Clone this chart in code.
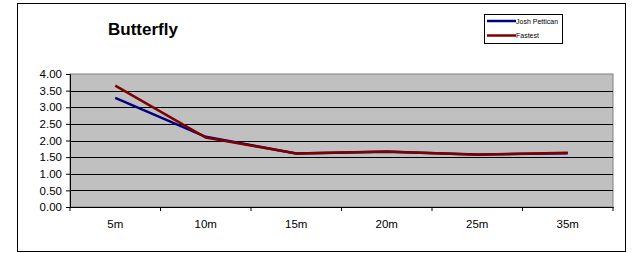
<!DOCTYPE html>
<html>
<head>
<meta charset="utf-8">
<script src="https://cdn.jsdelivr.net/npm/d3@7"></script>
<style>
  body { margin: 0; background: #fff; }
  svg { display: block; font-family: "Liberation Sans", Arial, sans-serif; }
</style>
</head>
<body>
<div id="chart"></div>
<script>
const categories = ["5m", "10m", "15m", "20m", "25m", "35m"];
const joshPettican = [3.28, 2.11, 1.61, 1.66, 1.58, 1.62];
const fastest = [3.65, 2.09, 1.61, 1.67, 1.57, 1.63];
const yTicks = [0, 0.5, 1, 1.5, 2, 2.5, 3, 3.5, 4];

const w = 633;
const h = 253;
const plot = { left: 70, top: 74, right: 613, bottom: 207 };

const svg = d3
  .select("#chart")
  .append("svg")
  .attr("width", w)
  .attr("height", h);

// outer chart frame
svg
  .append("rect")
  .attr("x", 17.5)
  .attr("y", 3.5)
  .attr("width", 608)
  .attr("height", 248)
  .style("fill", "#fff")
  .style("stroke", "#000")
  .style("stroke-width", "1px");

const xScale = d3
  .scaleBand()
  .domain(categories)
  .range([plot.left, plot.right]);

const yScale = d3
  .scaleLinear()
  .domain([0, 4])
  .range([plot.bottom, plot.top]);

// plot area
svg
  .append("rect")
  .attr("x", plot.left)
  .attr("y", plot.top)
  .attr("width", plot.right - plot.left)
  .attr("height", plot.bottom - plot.top)
  .style("fill", "#c0c0c0")
  .style("stroke", "#808080")
  .style("stroke-width", "1px");

// gridlines
svg
  .append("g")
  .selectAll("line")
  .data(yTicks.filter((d) => d > 0 && d < 4))
  .enter()
  .append("line")
  .attr("x1", plot.left)
  .attr("x2", plot.right)
  .attr("y1", (d) => Math.round(yScale(d)) + 0.5)
  .attr("y2", (d) => Math.round(yScale(d)) + 0.5)
  .style("stroke", "#000")
  .style("stroke-width", "1px");

// axes
const yAxis = d3
  .axisLeft(yScale)
  .tickValues(yTicks)
  .tickFormat(d3.format(".2f"))
  .tickSize(4)
  .tickPadding(4);

const yG = svg
  .append("g")
  .attr("transform", `translate(${plot.left}, 0)`)
  .call(yAxis);

const xAxis = d3
  .axisBottom(xScale)
  .tickSize(0)
  .tickPadding(13);

const xG = svg
  .append("g")
  .attr("transform", `translate(0, ${plot.bottom})`)
  .call(xAxis);

// x tick marks sit on category boundaries
xG
  .selectAll("line.sep")
  .data(d3.range(categories.length + 1))
  .enter()
  .append("line")
  .attr("class", "sep")
  .attr("x1", (i) => plot.left + i * xScale.step())
  .attr("x2", (i) => plot.left + i * xScale.step())
  .attr("y1", 0)
  .attr("y2", 4)
  .style("stroke", "#000");

[yG, xG].forEach((g) => {
  g.selectAll(".domain").style("stroke", "#000");
  g.selectAll(".tick line").style("stroke", "#000");
  g.selectAll("text")
    .style("font-size", "11.5px")
    .style("fill", "#000")
    .style("font-family", "'Liberation Sans', Arial, sans-serif");
});

// lines
const line = d3
  .line()
  .x((d, i) => xScale(categories[i]) + xScale.bandwidth() / 2)
  .y((d) => yScale(d));

svg
  .append("path")
  .datum(joshPettican)
  .attr("d", line)
  .style("fill", "none")
  .style("stroke", "#000080")
  .style("stroke-width", "2.5px");

svg
  .append("path")
  .datum(fastest)
  .attr("d", line)
  .style("fill", "none")
  .style("stroke", "#800000")
  .style("stroke-width", "2.5px");

// title
svg
  .append("text")
  .attr("x", 143)
  .attr("y", 35)
  .attr("text-anchor", "middle")
  .style("font-size", "17px")
  .style("font-weight", "bold")
  .text("Butterfly");

// legend
const legend = svg.append("g").attr("transform", "translate(484, 14)");

legend
  .append("rect")
  .attr("x", 0.5)
  .attr("y", 0.5)
  .attr("width", 78)
  .attr("height", 29)
  .style("fill", "#fff")
  .style("stroke", "#000");

const legendItems = [
  { name: "Josh Pettican", color: "#000080" },
  { name: "Fastest", color: "#800000" },
];

legendItems.forEach((item, i) => {
  const y = 7 + i * 14.5;
  legend
    .append("line")
    .attr("x1", 3)
    .attr("x2", 32)
    .attr("y1", y)
    .attr("y2", y)
    .style("stroke", item.color)
    .style("stroke-width", "2.5px");
  legend
    .append("text")
    .attr("x", 32)
    .attr("y", y + 2.5)
    .style("font-size", "7px")
    .text(item.name);
});
</script>
</body>
</html>
